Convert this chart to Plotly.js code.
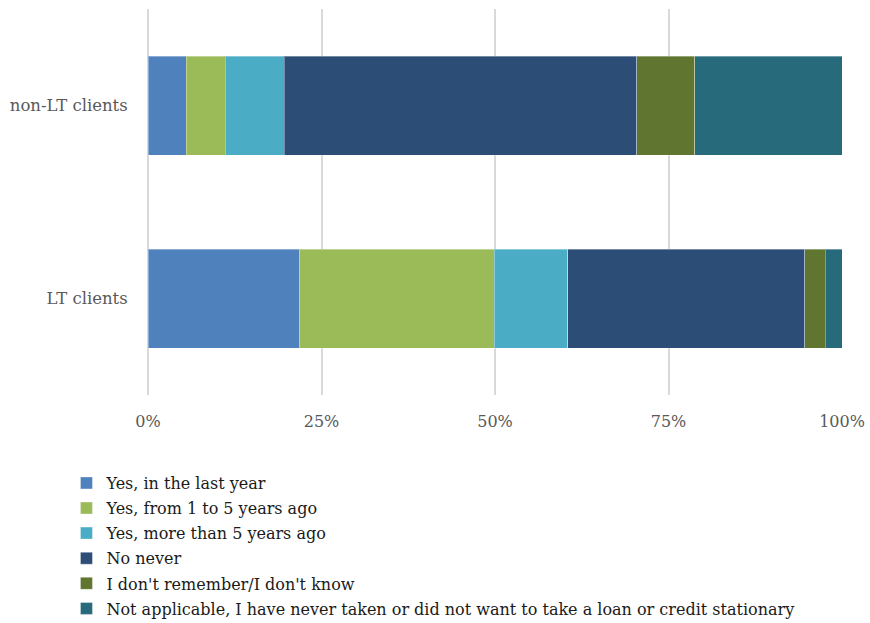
<!DOCTYPE html>
<html>
<head>
<meta charset="utf-8">
<script src="https://cdn.plot.ly/plotly-3.0.1.min.js"></script>
<style>html,body{margin:0;padding:0;background:#fff}#chart{width:870px;height:623px}</style>
</head>
<body>
<div id="chart"></div>
<script>
const categories = ['LT clients', 'non-LT clients'];
const seriesNames = [
  'Yes, in the last year',
  'Yes, from 1 to 5 years ago',
  'Yes, more than 5 years ago',
  'No never',
  "I don't remember/I don't know",
  'Not applicable, I have never taken or did not want to take a loan or credit stationary'
];
const yesLastYear   = [21.9, 5.5];
const yesOneToFive  = [28.0, 5.6];
const yesMoreThan5  = [10.6, 8.5];
const noNever       = [34.1, 50.8];
const dontKnow      = [3.0, 8.4];
const notApplicable = [2.4, 21.2];
const seriesValues = [yesLastYear, yesOneToFive, yesMoreThan5, noNever, dontKnow, notApplicable];
const colors = ['#4f81bd', '#9bbb59', '#4bacc6', '#2c4d75', '#5f7530', '#276a7c'];
const tickVals = [0, 25, 50, 75, 100];
const tickText = ['0%', '25%', '50%', '75%', '100%'];

const font = 'DejaVu Serif, serif';

const traces = seriesNames.map((name, i) => ({
  type: 'bar',
  orientation: 'h',
  name: name,
  legendgroup: 'g' + i,
  y: categories,
  x: seriesValues[i],
  marker: {color: colors[i], line: {color: 'rgba(255,255,255,0.35)', width: 1}},
  hoverinfo: 'name+x'
}));

const layout = {
  width: 870, height: 623,
  margin: {l: 148, r: 28, t: 9, b: 228, autoexpand: false},
  barmode: 'stack',
  bargap: 0.487,
  paper_bgcolor: '#ffffff',
  plot_bgcolor: '#ffffff',
  font: {family: font, color: '#595959', size: 16},
  xaxis: {
    range: [0, 100],
    tickvals: tickVals,
    ticktext: tickText,
    showgrid: true, gridcolor: '#d9d9d9', gridwidth: 2,
    zeroline: true, zerolinecolor: '#d9d9d9', zerolinewidth: 2,
    showline: false,
    ticks: 'outside', ticklen: 12, tickcolor: 'rgba(0,0,0,0)',
    tickfont: {family: font, size: 16, color: '#595959'},
    fixedrange: true
  },
  yaxis: {
    showgrid: false, zeroline: false, showline: false,
    ticks: 'outside', ticklen: 16, tickcolor: 'rgba(0,0,0,0)',
    tickfont: {family: font, size: 16.5, color: '#595959'},
    fixedrange: true
  },
  showlegend: true,
  legend: {
    orientation: 'v',
    traceorder: 'grouped',
    x: -0.1175, xanchor: 'left',
    y: -0.184, yanchor: 'top',
    font: {family: font, size: 16, color: '#1a1a1a'},
    itemwidth: 30,
    tracegroupgap: 1.3,
    bgcolor: 'rgba(0,0,0,0)'
  }
};

Plotly.newPlot('chart', traces, layout, {displayModeBar: false});
</script>
</body>
</html>
